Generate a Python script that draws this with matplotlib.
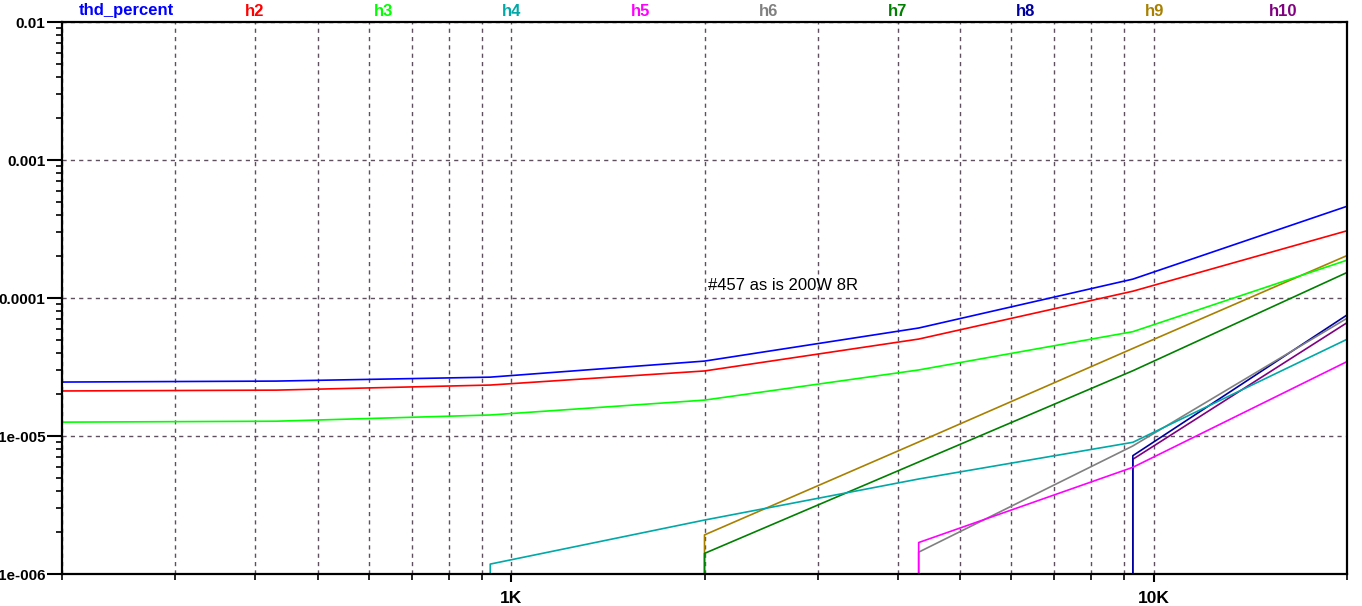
import numpy as np
import matplotlib.pyplot as plt
from matplotlib.ticker import FixedLocator, NullFormatter

plt.rcParams['font.family'] = ['Liberation Sans', 'DejaVu Sans']

# Analysis frequencies (3 points per decade, 200 Hz .. 20 kHz)
freqs = [200, 431, 928, 2000, 4309, 9283, 20000]

# Distortion values (None = not present)
thd_percent = [2.46e-5, 2.50e-5, 2.67e-5, 3.49e-5, 6.06e-5, 1.37e-4, 4.62e-4]
h2 = [2.12e-5, 2.15e-5, 2.34e-5, 2.96e-5, 5.04e-5, 1.12e-4, 3.07e-4]
h3 = [1.26e-5, 1.28e-5, 1.42e-5, 1.82e-5, 3.01e-5, 5.70e-5, 1.88e-4]
h4 = [None, None, 1.18e-6, 2.46e-6, 4.88e-6, 9.0e-6, 5.02e-5]
h5 = [None, None, None, None, 1.69e-6, 5.93e-6, 3.46e-5]
h6 = [None, None, None, None, 1.44e-6, 8.47e-6, 7.13e-5]
h7 = [None, None, None, 1.41e-6, 6.48e-6, 2.97e-5, 1.53e-4]
h8 = [None, None, None, None, None, 7.2e-6, 7.53e-5]
h9 = [None, None, None, 1.92e-6, 9.05e-6, 4.31e-5, 2.03e-4]
h10 = [None, None, None, None, None, 6.78e-6, 6.62e-5]

names = ["thd_percent", "h2", "h3", "h4", "h5", "h6", "h7", "h8", "h9", "h10"]
series = [thd_percent, h2, h3, h4, h5, h6, h7, h8, h9, h10]
colors = ["#0000FF", "#FF0000", "#00FF00", "#00A8A8", "#FF00FF",
          "#808080", "#008000", "#0000A0", "#A88000", "#800080"]

ymin, ymax = 1e-6, 1e-2
xmin, xmax = 200, 20000

fig = plt.figure(figsize=(13.62, 6.06), dpi=100)
ax = fig.add_axes([62/1362, 1-574/606, 1285/1362, 552/606])
ax.set_xscale("log")
ax.set_yscale("log")
ax.set_xlim(xmin, xmax)
ax.set_ylim(ymin, ymax)

# draw later series first so thd/h2/h3 sit on top
for name, vals, c in reversed(list(zip(names, series, colors))):
    xs = [f for f, v in zip(freqs, vals) if v is not None]
    ys = [v for v in vals if v is not None]
    if xs[0] != freqs[0]:
        # trace rises from the bottom where the harmonic first appears
        xs = [xs[0]] + xs
        ys = [ymin / 10] + ys
    ax.plot(xs, ys, color=c, lw=1.2, clip_on=True)

# ticks
ax.xaxis.set_major_locator(FixedLocator([1000, 10000]))
ax.set_xticklabels(["1K", "10K"])
minor_x = [m * 10**e for e in (2, 3, 4) for m in range(2, 10) if xmin <= m * 10**e <= xmax and m * 10**e not in (1000, 10000)]
ax.xaxis.set_minor_locator(FixedLocator(minor_x))
ax.xaxis.set_minor_formatter(NullFormatter())

yt = [1e-6, 1e-5, 1e-4, 1e-3, 1e-2]
ax.yaxis.set_major_locator(FixedLocator(yt))
ax.set_yticklabels(["1e-006", "1e-005", "0.0001", "0.001", "0.01"])
minor_y = [m * 10.0**e for e in range(-6, -2) for m in range(2, 10)]
ax.yaxis.set_minor_locator(FixedLocator(minor_y))
ax.yaxis.set_minor_formatter(NullFormatter())

ax.tick_params(axis="y", which="major", direction="out", length=11, width=1.5, labelsize=11, pad=1)
ax.tick_params(axis="y", which="minor", direction="out", length=4, width=1.2)
ax.tick_params(axis="x", which="major", direction="out", length=6, width=1.5, labelsize=12.5, pad=6)
ax.tick_params(axis="x", which="minor", direction="out", length=4, width=1.2)
for lab in ax.get_xticklabels() + ax.get_yticklabels():
    lab.set_fontweight("bold")

ax.grid(True, which="both", axis="x", color="#5f505f", ls=(0, (3, 3)), lw=1.0)
ax.grid(True, which="major", axis="y", color="#5f505f", ls=(0, (3, 3)), lw=1.0)
ax.set_axisbelow(True)

for sp in ax.spines.values():
    sp.set_linewidth(1.6)
    sp.set_color("black")

# trace names across the top
for i, (name, c) in enumerate(zip(names, colors)):
    ax.text((i + 0.5) / 10, 1.0 + 11/552, name, color=c, transform=ax.transAxes,
            ha="center", va="center", fontsize=12, fontweight="bold")

ax.text(0.503, 0.0 + (574-285)/552, "#457 as is 200W 8R", transform=ax.transAxes,
        ha="left", va="center", fontsize=12, color="black")

fig.savefig("out.png", dpi=100)
